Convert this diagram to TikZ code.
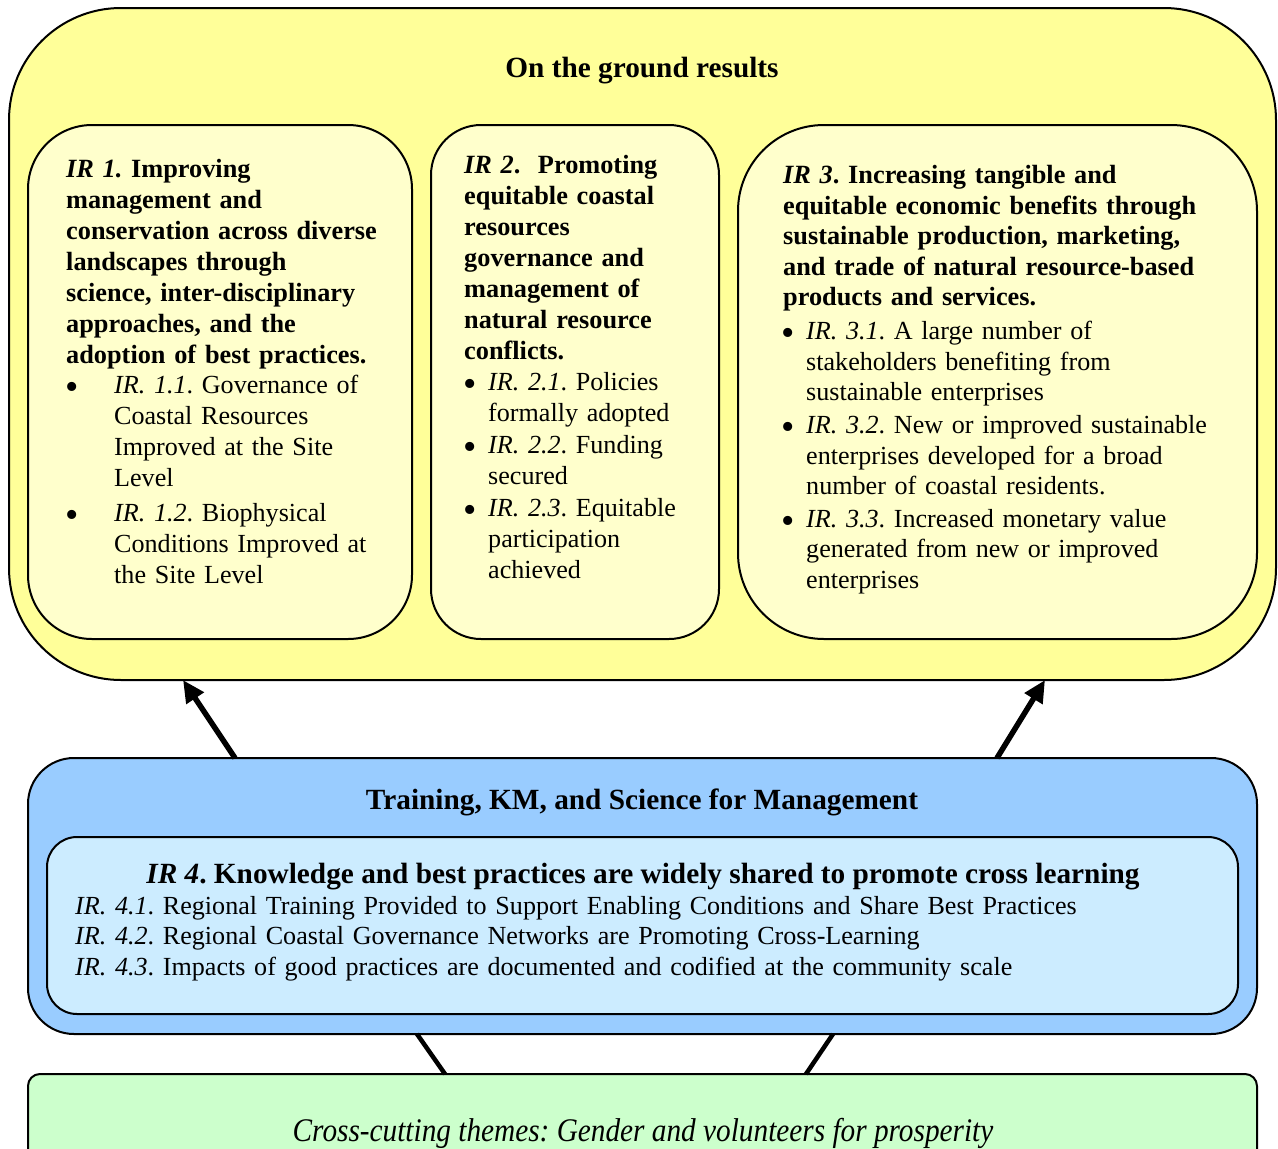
\documentclass[tikz,border=0pt]{standalone}
\usepackage{fontspec}
\setmainfont{Liberation Serif}
\usetikzlibrary{arrows.meta,calc}
\definecolor{groundfill}{HTML}{FFFF99}
\definecolor{irfill}{HTML}{FFFFCC}
\definecolor{trainfill}{HTML}{99CCFF}
\definecolor{kmfill}{HTML}{CCECFF}
\definecolor{crossfill}{HTML}{CCFFCC}
\frenchspacing
\begin{document}
\begin{tikzpicture}[x=1pt,y=-1pt,
  box/.style={draw=black, line width=2pt, rounded corners=#1, anchor=north west, inner sep=0pt, outer sep=0pt},
  bodytxt/.style={font=\frenchspacing\fontsize{26.1}{31}\selectfont, anchor=base west, inner sep=0pt, align=left, text width=#1},
  headtxt/.style={font=\frenchspacing\fontsize{26.3}{31}\selectfont\bfseries, anchor=base west, inner sep=0pt, align=left, text width=#1},
  titletxt/.style={font=\frenchspacing\fontsize{29.3}{34}\selectfont\bfseries, anchor=base, inner sep=0pt},
  bul/.style={font=\fontsize{38}{38}\selectfont, anchor=base, inner sep=0pt},
  arr/.style={line width=5.5pt, -{Triangle[length=22pt,width=20pt]}},
  link/.style={line width=4.5pt}
]
\useasboundingbox (0,0) rectangle (1278,1149);
\clip (0,0) rectangle (1278,1149);

% boxes
\node[box=112pt, fill=groundfill, minimum width=1267pt, minimum height=672pt] (ground) at (9,8) {};
\node[box=64pt, fill=irfill, minimum width=384pt, minimum height=514pt] (ir1) at (28,125) {};
\node[box=50pt, fill=irfill, minimum width=288pt, minimum height=514pt] (ir2) at (431,125) {};
\node[box=86pt, fill=irfill, minimum width=519pt, minimum height=514pt] (ir3) at (738,125) {};
\node[box=46pt, fill=trainfill, minimum width=1229pt, minimum height=276pt] (train) at (28,758) {};
\node[box=30pt, fill=kmfill, minimum width=1191pt, minimum height=177pt] (km) at (47,837) {};
\node[box=12pt, fill=crossfill, minimum width=1229pt, minimum height=100pt] (cross) at (28,1074) {};

% titles
\node[titletxt] (groundtitle) at (642,77) {On the ground results};
\node[titletxt] (traintitle) at (642,809) {Training, KM, and Science for Management};

% IR 1
\node[headtxt=340pt] (ir1head) at (66,177.5) {\textit{IR 1.} Improving\\ management and\\ conservation across diverse\\ landscapes through\\ science, inter-disciplinary\\ approaches, and the\\ adoption of best practices.};
\node[bul] (b11) at (72,399.5) {\smash{•}};
\node[bodytxt=290pt] (ir11) at (114,393.5) {\textit{IR. 1.1}. Governance of\\ Coastal Resources\\ Improved at the Site\\ Level};
\node[bul] (b12) at (72,527) {\smash{•}};
\node[bodytxt=290pt] (ir12) at (114,521) {\textit{IR. 1.2}. Biophysical\\ Conditions Improved at\\ the Site Level};

% IR 2
\node[headtxt=250pt] (ir2head) at (464,173) {\textit{IR 2}.\ \ Promoting\\ equitable coastal\\ resources\\ governance and\\ management of\\ natural resource\\ conflicts.};
\node[bul] (b21) at (470,396) {\smash{•}};
\node[bodytxt=220pt] (ir21) at (488,390) {\textit{IR. 2.1}. Policies\\ formally adopted};
\node[bul] (b22) at (470,459) {\smash{•}};
\node[bodytxt=220pt] (ir22) at (488,453) {\textit{IR. 2.2}. Funding\\ secured};
\node[bul] (b23) at (470,522.5) {\smash{•}};
\node[bodytxt=220pt] (ir23) at (488,516.5) {\textit{IR. 2.3}. Equitable\\ participation\\ achieved};

% IR 3
\node[headtxt=460pt, font=\frenchspacing\fontsize{26.3}{30.6}\selectfont\bfseries] (ir3head) at (783,183.5) {\textit{IR 3}. Increasing tangible and\\ equitable economic benefits through\\ sustainable production, marketing,\\ and trade of natural resource-based\\ products and services.};
\node[bul] (b31) at (788,345.5) {\smash{•}};
\node[bodytxt=440pt, font=\frenchspacing\fontsize{26.1}{30.6}\selectfont] (ir31) at (806,339.5) {\textit{IR. 3.1}. A large number of\\ stakeholders benefiting from\\ sustainable enterprises};
\node[bul] (b32) at (788,439.5) {\smash{•}};
\node[bodytxt=440pt, font=\frenchspacing\fontsize{26.1}{30.6}\selectfont] (ir32) at (806,433.5) {\textit{IR. 3.2}. New or improved sustainable\\ enterprises developed for a broad\\ number of coastal residents.};
\node[bul] (b33) at (788,533) {\smash{•}};
\node[bodytxt=440pt, font=\frenchspacing\fontsize{26.1}{30.6}\selectfont] (ir33) at (806,527) {\textit{IR. 3.3}. Increased monetary value\\ generated from new or improved\\ enterprises};

% IR 4
\node[titletxt] (ir4head) at (643,883.5) {\textit{IR 4}. Knowledge and best practices are widely shared to promote cross learning};
\node[bodytxt=1150pt, font=\frenchspacing\fontsize{26.1}{30.4}\selectfont] (ir4) at (75,914.5) {\textit{IR. 4.1}. Regional Training Provided to Support Enabling Conditions and Share Best Practices\\ \textit{IR. 4.2}. Regional Coastal Governance Networks are Promoting Cross-Learning\\ \textit{IR. 4.3}. Impacts of good practices are documented and codified at the community scale};

% cross-cutting
\node[font=\fontsize{33}{38}\selectfont\itshape, anchor=base, inner sep=0pt] (crosstxt) at (643,1141) {\scalebox{0.8875}[1]{Cross-cutting themes: Gender and volunteers for prosperity}};

% connectors
\draw[arr] ($(train.north west)+(207,0)$) -- ($(ground.south west)+(174,0)$);
\draw[arr] ($(train.north west)+(969,0)$) -- ($(ground.south west)+(1036,0)$);
\draw[link] ($(train.south west)+(389,0)$) -- ($(cross.north west)+(417,0)$);
\draw[link] ($(train.south west)+(805,0)$) -- ($(cross.north west)+(778,0)$);
\end{tikzpicture}
\end{document}
